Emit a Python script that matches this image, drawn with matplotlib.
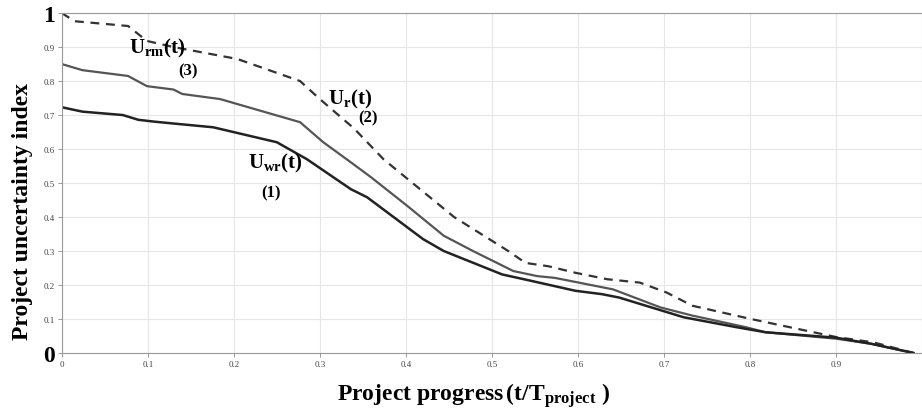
import matplotlib
matplotlib.use('Agg')
import matplotlib.pyplot as plt

# Daten
x_r = [0.0, 0.015, 0.077, 0.099, 0.13, 0.204, 0.277, 0.30, 0.34, 0.374, 0.456, 0.519, 0.539, 0.566,
       0.597, 0.634, 0.672, 0.703, 0.733, 0.801, 0.9, 0.941, 0.95, 0.99]
u_r = [1.0, 0.976, 0.962, 0.918, 0.90, 0.865, 0.80, 0.747, 0.66, 0.57, 0.40, 0.30, 0.265, 0.255,
       0.236, 0.217, 0.207, 0.178, 0.139, 0.10, 0.047, 0.032, 0.027, 0.0]

x_rm = [0.0, 0.024, 0.077, 0.099, 0.13, 0.14, 0.184, 0.277, 0.304, 0.336, 0.359, 0.402, 0.444, 0.478,
        0.525, 0.553, 0.573, 0.621, 0.641, 0.696, 0.733, 0.795, 0.818, 0.9, 0.941, 0.99]
u_rm = [0.85, 0.832, 0.815, 0.785, 0.775, 0.762, 0.747, 0.679, 0.62, 0.561, 0.518, 0.432, 0.345, 0.30,
        0.241, 0.226, 0.221, 0.197, 0.187, 0.134, 0.11, 0.076, 0.061, 0.042, 0.027, 0.0]

x_wr = [0.0, 0.024, 0.071, 0.089, 0.106, 0.126, 0.176, 0.25, 0.285, 0.336, 0.355, 0.42, 0.444, 0.512,
        0.546, 0.597, 0.628, 0.648, 0.723, 0.784, 0.818, 0.9, 0.941, 0.99]
u_wr = [0.723, 0.71, 0.70, 0.686, 0.681, 0.676, 0.664, 0.62, 0.57, 0.482, 0.458, 0.335, 0.30, 0.231,
        0.212, 0.183, 0.173, 0.163, 0.105, 0.076, 0.061, 0.045, 0.027, 0.0]

x_ticks = [0, 0.1, 0.2, 0.3, 0.4, 0.5, 0.6, 0.7, 0.8, 0.9]
y_ticks = [0, 0.1, 0.2, 0.3, 0.4, 0.5, 0.6, 0.7, 0.8, 0.9, 1]

plt.rcParams['font.family'] = ['Liberation Serif', 'DejaVu Serif']
plt.rcParams['mathtext.fontset'] = 'custom'
plt.rcParams['mathtext.rm'] = 'Liberation Serif'
plt.rcParams['mathtext.bf'] = 'Liberation Serif:bold'
plt.rcParams['mathtext.it'] = 'Liberation Serif:italic'

fig = plt.figure(figsize=(9.22, 4.14), dpi=100)
ax = fig.add_axes([0.067, 0.145, 0.933, 0.821])

ax.plot(x_r, u_r, color='#333333', lw=1.6, ls=(0, (4, 3)))
ax.plot(x_rm, u_rm, color='#555555', lw=1.6)
ax.plot(x_wr, u_wr, color='#222222', lw=1.8)

ax.set_xlim(0, 1)
ax.set_ylim(0, 1)
ax.set_xticks(x_ticks)
ax.set_xticklabels([f'{t:g}' for t in x_ticks], fontsize=6.5, color='#444444')
ax.set_yticks(y_ticks)
ylabs = ['0'] + [f'{t:g}' for t in y_ticks[1:-1]] + ['1']
ax.set_yticklabels(ylabs, fontsize=6.5, color='#444444')
for lab in (ax.get_yticklabels()[0], ax.get_yticklabels()[-1]):
    lab.set_fontsize(17)
    lab.set_fontweight('bold')
    lab.set_color('black')
ax.tick_params(length=3, width=0.6, color='#888888', pad=2)
ax.grid(True, color='#e6e6e6', lw=0.8)
for s in ax.spines.values():
    s.set_color('#999999')
    s.set_linewidth(0.8)

ax.set_ylabel('Project uncertainty index', fontsize=17, fontweight='bold')
ax.yaxis.set_label_coords(-0.033, 0.42)
ax.set_xlabel(r'Project progress$\,$(t/T$_{\mathbf{project}}$ )', fontsize=17, fontweight='bold')
ax.xaxis.set_label_coords(0.478, -0.08)

# Kurvenbeschriftungen
ax.text(0.078, 0.885, r'U$_{\mathbf{rm}}$(t)', fontsize=15, fontweight='bold')
ax.text(0.135, 0.82, '(3)', fontsize=12, fontweight='bold')
ax.text(0.31, 0.735, r'U$_{\mathbf{r}}$(t)', fontsize=15, fontweight='bold')
ax.text(0.345, 0.68, '(2)', fontsize=12, fontweight='bold')
ax.text(0.217, 0.545, r'U$_{\mathbf{wr}}$(t)', fontsize=15, fontweight='bold')
ax.text(0.232, 0.46, '(1)', fontsize=12, fontweight='bold')

fig.savefig('out.png', dpi=100)
